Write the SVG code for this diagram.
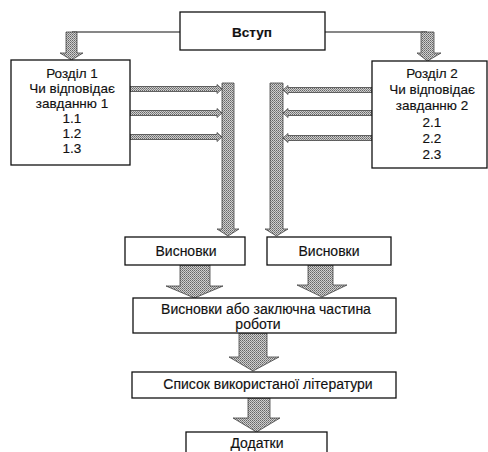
<svg xmlns="http://www.w3.org/2000/svg" width="488" height="452" viewBox="0 0 488 452">
<defs>
<pattern id="dots" width="2" height="2" patternUnits="userSpaceOnUse">
<rect width="2" height="2" fill="#cfcfcf"/>
<rect width="1" height="1" fill="#666"/>
<rect x="1" y="1" width="1" height="1" fill="#858585"/>
</pattern>
</defs>
<style>
.box{fill:#fff;stroke:#111;stroke-width:1.3}
.t{font-family:"Liberation Sans",Arial,sans-serif;font-size:14px;fill:#111;text-anchor:middle;stroke:#111;stroke-width:0.15}
.s{font-size:13.5px}
.b{font-weight:bold;font-size:13.5px}
.arr{fill:url(#dots);stroke:#444;stroke-width:0.8;stroke-linejoin:miter}
.ln{fill:none;stroke:#111;stroke-width:1.2}
</style>
<rect width="488" height="452" fill="#fff"/>
<g id="connectors">
<path class="ln" d="M180,32 H72 M325,32 H427"/>
<path class="arr" d="M66,32 H77 V53 H83 L71.5,60 L60,53 H66 Z"/>
<path class="arr" d="M421,32 H434 V53 H441 L427.5,61 L417,53 H421 Z"/>
<path class="arr" d="M130,86.5 H217 V84.5 L222,89 L217,93.5 V91.5 H130 Z"/>
<path class="arr" d="M130,110.5 H217 V108.5 L222,113 L217,117.5 V115.5 H130 Z"/>
<path class="arr" d="M130,134.5 H217 V132.5 L222,137 L217,141.5 V139.5 H130 Z"/>
<path class="arr" d="M372,87.5 H288 V85.5 L283,90 L288,94.5 V92.5 H372 Z"/>
<path class="arr" d="M372,110.5 H288 V108.5 L283,113 L288,117.5 V115.5 H372 Z"/>
<path class="arr" d="M372,135.5 H288 V133.5 L283,138 L288,142.5 V140.5 H372 Z"/>
<path class="arr" d="M222,83 H234 V229 H239 L228,236 L217,229 H222 Z"/>
<path class="arr" d="M270,83 H283 V229 H288 L276.5,236 L265,229 H270 Z"/>
<path class="arr" d="M180,265 H210 V286 H223 L194.5,298 L166,286 H180 Z"/>
<path class="arr" d="M308,265 H333 V285 H347 L322,297 L297,285 H308 Z"/>
<path class="arr" d="M239,333 H267 V357 H279 L253,371 L229,357 H239 Z"/>
<path class="arr" d="M248,398 H270 V418 H280 L256.5,432 L233,418 H248 Z"/>
</g>
<g id="vstup">
<rect class="box" x="180" y="12" width="145" height="38"/>
<text class="t b" x="252" y="37">Вступ</text>
</g>
<g id="rozdil1">
<rect class="box" x="11" y="60" width="119" height="105"/>
<text class="t s" x="72" y="78">Розділ 1</text>
<text class="t s" x="72" y="93">Чи відповідає</text>
<text class="t s" x="72" y="108">завданню 1</text>
<text class="t s" x="72" y="123">1.1</text>
<text class="t s" x="72" y="138">1.2</text>
<text class="t s" x="72" y="153">1.3</text>
</g>
<g id="rozdil2">
<rect class="box" x="372" y="61" width="115" height="107"/>
<text class="t s" x="432" y="78">Розділ 2</text>
<text class="t s" x="432" y="94">Чи відповідає</text>
<text class="t s" x="432" y="110">завданню 2</text>
<text class="t s" x="432" y="127">2.1</text>
<text class="t s" x="432" y="143">2.2</text>
<text class="t s" x="432" y="159">2.3</text>
</g>
<g id="vysnovky1">
<rect class="box" x="125" y="237" width="120" height="28"/>
<text class="t" x="186" y="256">Висновки</text>
</g>
<g id="vysnovky2">
<rect class="box" x="267" y="237" width="124" height="28"/>
<text class="t" x="329" y="256">Висновки</text>
</g>
<g id="zakliuchna">
<rect class="box" x="133" y="298" width="263" height="35"/>
<text class="t" x="266" y="314">Висновки або заключна частина</text>
<text class="t" x="258" y="329">роботи</text>
</g>
<g id="spysok">
<rect class="box" x="132" y="372" width="264" height="26"/>
<text class="t" x="268" y="389">Список використаної літератури</text>
</g>
<g id="dodatky">
<rect class="box" x="186" y="432" width="141" height="30"/>
<text class="t" x="257" y="448">Додатки</text>
</g>
</svg>
